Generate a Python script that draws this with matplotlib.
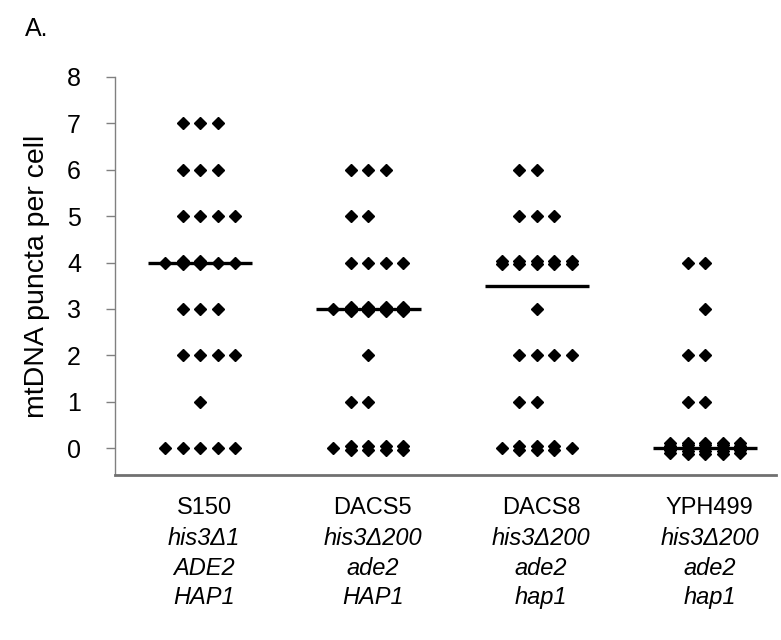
import numpy as np
import matplotlib
matplotlib.use('Agg')
import matplotlib.pyplot as plt

plt.rcParams['font.family'] = ['Liberation Sans', 'DejaVu Sans']

# ── data: per strain, value of each row and how many cells sit in each dot column ──
strains = ['S150', 'DACS5', 'DACS8', 'YPH499']
genotype_his = ['his3Δ1', 'his3Δ200', 'his3Δ200', 'his3Δ200']
genotype_ade = ['ADE2', 'ade2', 'ade2', 'ade2']
genotype_hap = ['HAP1', 'HAP1', 'hap1', 'hap1']

s150_values = [7, 6, 5, 4, 3, 2, 1, 0]
s150_stacks = [[1, 1, 1], [1, 1, 1], [1, 1, 1, 1], [1, 2, 2, 1, 1],
               [1, 1, 1], [1, 1, 1, 1], [1], [1, 1, 1, 1, 1]]

dacs5_values = [6, 5, 4, 3, 2, 1, 0]
dacs5_stacks = [[1, 1, 1], [1, 1], [1, 1, 1, 1], [1, 2, 2, 2, 2],
                [1], [1, 1], [1, 2, 2, 2, 2]]

dacs8_values = [6, 5, 4, 3, 2, 1, 0]
dacs8_stacks = [[1, 1], [1, 1, 1], [2, 2, 2, 2, 2], [1],
                [1, 1, 1, 1], [1, 1], [1, 2, 2, 2, 1]]

yph499_values = [4, 3, 2, 1, 0]
yph499_stacks = [[1, 1], [1], [1, 1], [1, 1], [4, 5, 5, 5, 4]]

medians = [4, 3, 3.5, 0]

groups = [(s150_values, s150_stacks), (dacs5_values, dacs5_stacks),
          (dacs8_values, dacs8_stacks), (yph499_values, yph499_stacks)]

# column offsets used for a row with n dots
col_offsets = {1: [0], 2: [-1, 0], 3: [-1, 0, 1], 4: [-1, 0, 1, 2], 5: [-2, -1, 0, 1, 2]}
DX = 0.104

fig = plt.figure(figsize=(7.81, 6.40), dpi=100)
ax = fig.add_axes([115 / 781, 1 - 475 / 640, (776 - 115) / 781, (475 - 77) / 640])

for i, (vals, stacks) in enumerate(groups):
    xc = i + 1
    xs, ys = [], []
    for v, row in zip(vals, stacks):
        offs = col_offsets[len(row)]
        for o, k in zip(offs, row):
            h = min(0.035 * (k - 1), 0.12)
            for dy in np.linspace(-h, h, k):
                xs.append(xc + o * DX)
                ys.append(v + dy)
    ax.plot(xs, ys, linestyle='none', marker='D', ms=6.6, color='black',
            markeredgewidth=1.0, markeredgecolor='black', zorder=3)
    ax.plot([xc - 0.31, xc + 0.31], [medians[i], medians[i]], color='black',
            lw=2.4, solid_capstyle='butt', zorder=2)

ax.set_xlim(0.495, 4.42)
ax.set_ylim(-0.58, 8)
ax.set_yticks(range(0, 9))
ax.tick_params(axis='y', direction='out', length=6.5, width=1, color='#808080',
               labelsize=18, pad=18)
ax.set_xticks([])

for side in ['top', 'right']:
    ax.spines[side].set_visible(False)
ax.spines['left'].set_color('#808080')
ax.spines['left'].set_linewidth(1)
ax.spines['bottom'].set_color('#707070')
ax.spines['bottom'].set_linewidth(2)

ax.set_ylabel('mtDNA puncta per cell', fontsize=20.5, labelpad=12)

# category labels, four lines each
for i in range(len(strains)):
    lines = [(strains[i], 'normal'), (genotype_his[i], 'italic'),
             (genotype_ade[i], 'italic'), (genotype_hap[i], 'italic')]
    for j, (txt, style) in enumerate(lines):
        ax.annotate(txt, xy=(i + 1, 0), xycoords=('data', 'axes fraction'),
                    xytext=(3, -16 - j * 21.4), textcoords='offset points',
                    ha='center', va='top', fontsize=17, fontstyle=style)

fig.text(25 / 781, 1 - 29 / 640, 'A.', fontsize=18, va='center', ha='left')

fig.savefig('out.png', dpi=100)
